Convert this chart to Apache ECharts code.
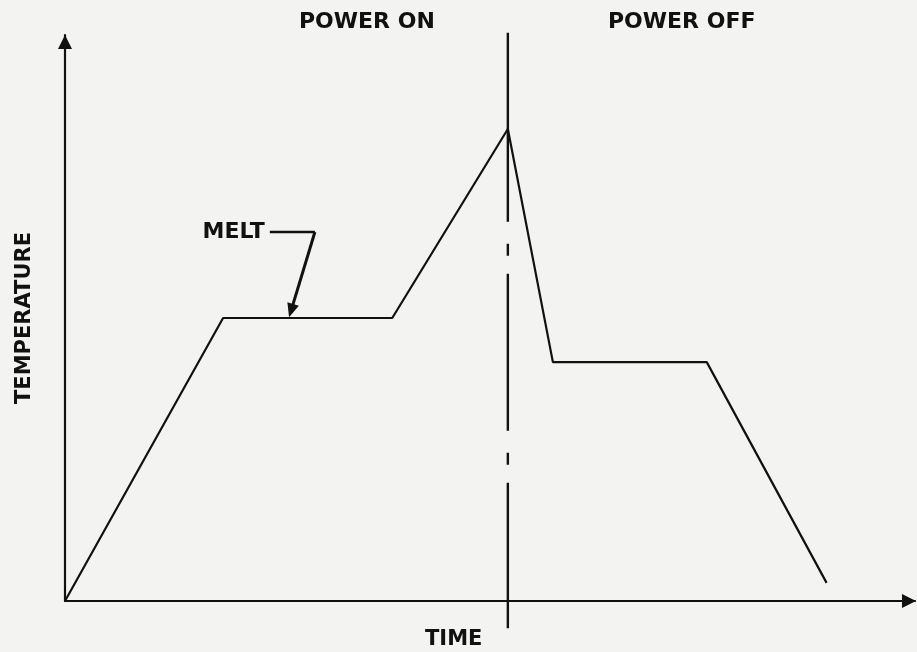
<!DOCTYPE html>
<html>
<head>
<meta charset="utf-8">
<style>
  html, body { margin: 0; padding: 0; background: #f3f3f1; }
  #chart { width: 917px; height: 652px; }
</style>
<script src="https://cdn.jsdelivr.net/npm/echarts@6/dist/echarts.min.js"></script>
</head>
<body>
<div id="chart"></div>
<script>
// time / temperature in arbitrary units (0..100 on both axes)
const profileTime = [0, 18.6, 38.5, 52.1, 57.4, 75.5, 89.6]
const profileTemp = [0, 50.0, 50.0, 83.4, 42.2, 42.2, 3.2]

// power switched off at the peak
const powerOffTime = 52.1
const switchLineTemps = [100.4, 67.0, -4.8]

// "MELT" leader: horizontal tick then arrow onto the plateau
const meltLeaderTime = [24.1, 29.4, 26.6]
const meltLeaderTemp = [65.2, 65.2, 51.3]

const ink = '#111111'
const font = 'DejaVu Sans'

const chart = echarts.init(document.getElementById('chart'))

const profile = profileTime.map((t, i) => [t, profileTemp[i]])

const option = {
  backgroundColor: '#f3f3f1',
  animation: false,
  grid: { left: 65, right: 2, top: 35, bottom: 51 },
  xAxis: {
    type: 'value',
    min: 0,
    max: 100,
    axisLine: {
      onZero: false,
      symbol: ['none', 'triangle'],
      symbolSize: [14, 14],
      symbolOffset: [0, -6],
      lineStyle: { color: ink, width: 2.2 },
    },
    axisTick: { show: false },
    axisLabel: { show: false },
    splitLine: { show: false },
  },
  yAxis: {
    type: 'value',
    min: 0,
    max: 100,
    name: 'TEMPERATURE',
    nameLocation: 'middle',
    nameGap: 30,
    nameTextStyle: { color: ink, fontFamily: font, fontWeight: 'bold', fontSize: 21 },
    axisLine: {
      onZero: false,
      symbol: ['none', 'triangle'],
      symbolSize: [14, 14],
      symbolOffset: [0, -7],
      lineStyle: { color: ink, width: 2.2 },
    },
    axisTick: { show: false },
    axisLabel: { show: false },
    splitLine: { show: false },
  },
  graphic: [
    {
      type: 'text',
      left: 299,
      top: 11,
      style: { text: 'POWER ON', fill: ink, font: 'bold 22px ' + font },
    },
    {
      type: 'text',
      left: 608,
      top: 11,
      style: { text: 'POWER OFF', fill: ink, font: 'bold 22px ' + font },
    },
    {
      type: 'text',
      left: 425,
      top: 629,
      style: { text: 'TIME', fill: ink, font: 'bold 21px ' + font },
    },
  ],
  series: [
    {
      type: 'line',
      data: profile,
      symbol: 'none',
      lineStyle: { color: ink, width: 2.2 },
    },
    {
      type: 'line',
      data: [[powerOffTime, switchLineTemps[0]], [powerOffTime, switchLineTemps[1]]],
      symbol: 'none',
      clip: false,
      lineStyle: { color: ink, width: 2.4 },
    },
    {
      type: 'line',
      data: [[powerOffTime, switchLineTemps[1]], [powerOffTime, switchLineTemps[2]]],
      symbol: 'none',
      clip: false,
      lineStyle: { color: ink, width: 2.4, type: [157, 22, 12, 18], dashOffset: 157 },
    },
    {
      type: 'line',
      data: [
        {
          value: [meltLeaderTime[0], meltLeaderTemp[0]],
          label: {
            show: true,
            position: 'left',
            distance: 5,
            formatter: 'MELT',
            color: ink,
            fontFamily: font,
            fontWeight: 'bold',
            fontSize: 22,
          },
        },
        [meltLeaderTime[1], meltLeaderTemp[1]],
      ],
      symbol: 'circle',
      symbolSize: 0,
      lineStyle: { color: ink, width: 2.4 },
      markLine: {
        silent: true,
        symbol: ['none', 'triangle'],
        symbolSize: [12, 14],
        label: { show: false },
        lineStyle: { color: ink, width: 3, type: 'solid' },
        data: [[
          { coord: [meltLeaderTime[1], meltLeaderTemp[1]] },
          { coord: [meltLeaderTime[2], meltLeaderTemp[2]] },
        ]],
      },
    },
  ],
}

option && chart.setOption(option)
</script>
</body>
</html>
